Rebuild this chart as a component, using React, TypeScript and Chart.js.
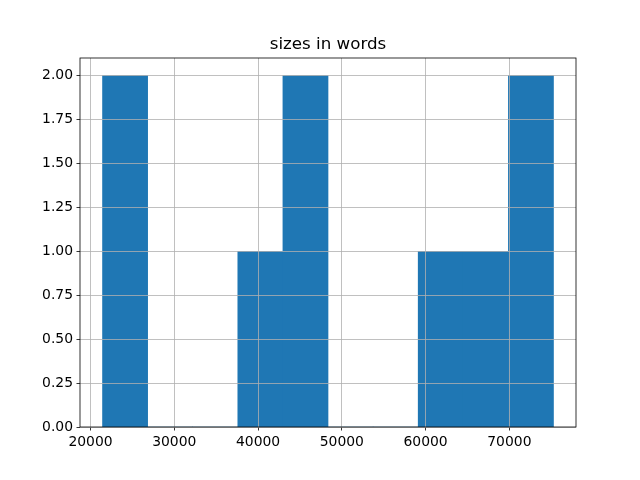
import React, { useEffect, useRef } from "react";
import { Chart, registerables } from "chart.js";

Chart.register(...registerables);

// Histogram data (10 bins)
const binCenters = [24126, 29509, 34892, 40275, 45659, 51042, 56425, 61808, 67191, 72574];
const counts = [2, 0, 0, 1, 2, 0, 0, 1, 1, 2];
const xTicks = [20000, 30000, 40000, 50000, 60000, 70000];
const yTicks = [0, 0.25, 0.5, 0.75, 1.0, 1.25, 1.5, 1.75, 2.0];
const titleText = "sizes in words";
const xMin = 18744;
const xMax = 77954;
const yMin = 0;
const yMax = 2.1;

const FONT = "'DejaVu Sans', sans-serif";

const framePlugin = {
  id: "frameAndTitle",
  afterDraw(chart: any) {
    const { ctx, chartArea } = chart;
    ctx.save();
    ctx.strokeStyle = "#000";
    ctx.lineWidth = 0.8;
    ctx.strokeRect(chartArea.left, chartArea.top, chartArea.right - chartArea.left, chartArea.bottom - chartArea.top);
    ctx.fillStyle = "#000";
    ctx.font = `16.7px ${FONT}`;
    ctx.textAlign = "center";
    ctx.textBaseline = "alphabetic";
    ctx.fillText(titleText, (chartArea.left + chartArea.right) / 2, chartArea.top - 9);
    ctx.restore();
  },
};

export default function App() {
  const ref = useRef<HTMLCanvasElement | null>(null);
  useEffect(() => {
    if (!ref.current) return;
    const chart = new Chart(ref.current, {
      type: "bar",
      data: {
        datasets: [
          {
            data: binCenters.map((x, i) => ({ x, y: counts[i] })),
            backgroundColor: "#1f77b4",
            borderWidth: 0,
            barPercentage: 1,
            categoryPercentage: 1,
          },
        ],
      },
      options: {
        animation: false,
        responsive: false,
        devicePixelRatio: 1,
        layout: { padding: { left: 0, right: 64, top: 58, bottom: 0 } },
        plugins: { legend: { display: false }, tooltip: { enabled: false }, title: { display: false } },
        scales: {
          x: {
            type: "linear",
            min: xMin,
            max: xMax,
            offset: false,
            grid: { z: 1, color: "#b0b0b0", lineWidth: 0.8, tickColor: "#000", tickLength: 3.5, offset: false, drawTicks: true },
            border: { display: false },
            ticks: {
              color: "#000",
              padding: 3.5,
              font: { size: 13.9, family: FONT },
              autoSkip: false,
              maxRotation: 0,
              callback: (v: any) => String(v),
            },
            afterBuildTicks: (s: any) => {
              s.ticks = xTicks.map((v) => ({ value: v }));
            },
            afterFit: (s: any) => {
              s.height = 53;
            },
          },
          y: {
            type: "linear",
            min: yMin,
            max: yMax,
            grid: { z: 1, color: "#b0b0b0", lineWidth: 0.8, tickColor: "#000", tickLength: 3.5, drawTicks: true },
            border: { display: false },
            ticks: {
              color: "#000",
              padding: 3.5,
              font: { size: 13.9, family: FONT },
              autoSkip: false,
              callback: (v: any) => Number(v).toFixed(2),
            },
            afterBuildTicks: (s: any) => {
              s.ticks = yTicks.map((v) => ({ value: v }));
            },
            afterFit: (s: any) => {
              s.width = 80;
            },
          },
        },
      } as any,
      plugins: [framePlugin],
    });
    return () => chart.destroy();
  }, []);
  return (
    <div style={{ position: "absolute", left: 0, top: 0, width: 640, height: 480, background: "#fff" }}>
      <canvas ref={ref} width={640} height={480} />
    </div>
  );
}
